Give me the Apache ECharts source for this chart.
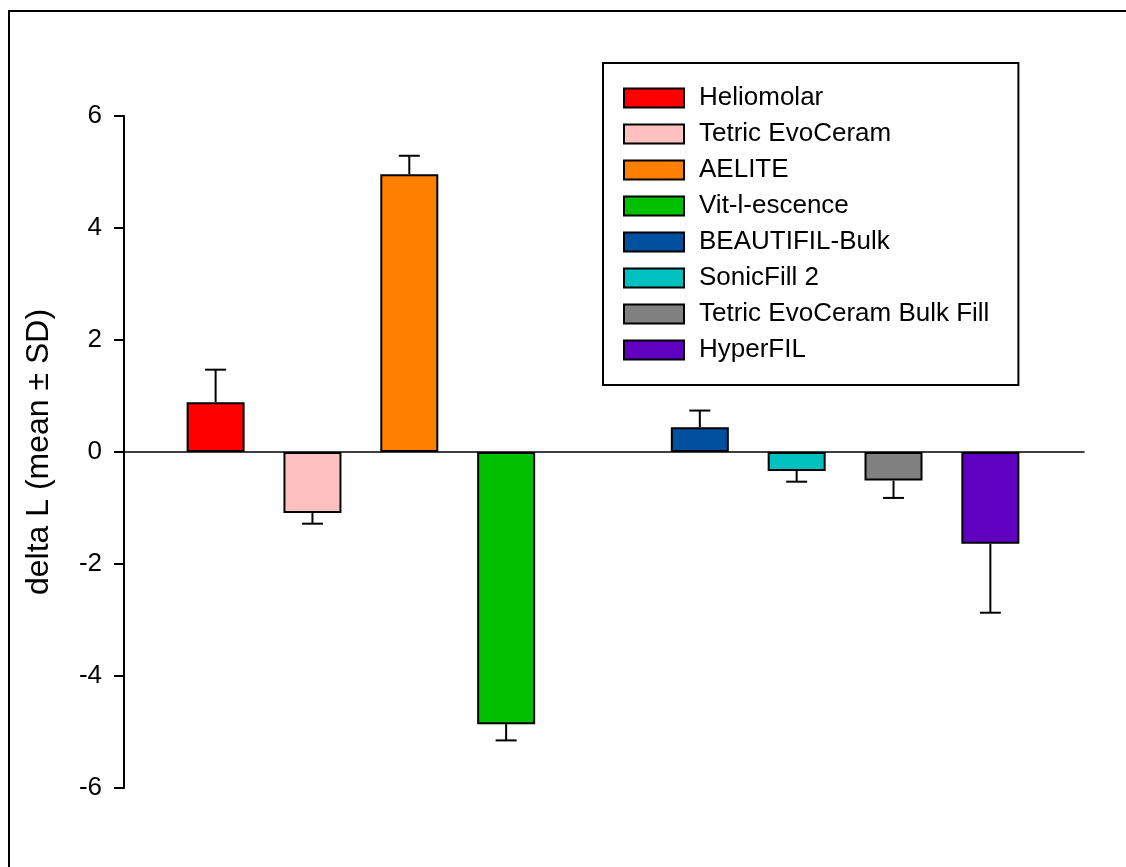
<!DOCTYPE html>
<html>
<head>
<meta charset="utf-8">
<script src="https://cdn.jsdelivr.net/npm/echarts@6/dist/echarts.min.js"></script>
<style>html,body{margin:0;padding:0;background:#fff}#c{width:1126px;height:867px}</style>
</head>
<body>
<div id="c"></div>
<script>
var categories = ['Heliomolar', 'Tetric EvoCeram', 'AELITE', 'Vit-l-escence', 'BEAUTIFIL-Bulk', 'SonicFill 2', 'Tetric EvoCeram Bulk Fill', 'HyperFIL'];
var means = [0.89, -1.09, 4.96, -4.86, 0.44, -0.34, -0.51, -1.64];
var sds = [0.58, 0.19, 0.33, 0.29, 0.30, 0.19, 0.31, 1.23];
var groups = ['conventional', 'conventional', 'conventional', 'conventional', 'bulk', 'bulk', 'bulk', 'bulk'];
var colors = ['#FF0000', '#FFC0C0', '#FF8000', '#00C000', '#0050A0', '#00C0C0', '#808080', '#6000C0'];
var yTicks = [-6, -4, -2, 0, 2, 4, 6];

// slot positions: one empty slot between the two groups
var slots = [];
var s = 0;
for (var i = 0; i < categories.length; i++) {
  if (i > 0 && groups[i] !== groups[i - 1]) s++;
  slots.push(s);
  s++;
}

var FONT = '"Liberation Sans", Arial, sans-serif';
var series = categories.map(function (name, i) {
  return {
    name: name,
    type: 'bar',
    barWidth: 58,
    barGap: '-100%',
    data: [[slots[i], means[i]]],
    itemStyle: { color: colors[i], borderColor: '#000', borderWidth: 2 },
    emphasis: { disabled: true },
    z: 3
  };
});

series.push({
  type: 'custom',
  name: 'sd',
  data: categories.map(function (n, i) { return [slots[i], means[i], means[i] + (means[i] >= 0 ? sds[i] : -sds[i])]; }),
  renderItem: function (params, api) {
    var p0 = api.coord([api.value(0), api.value(1)]);
    var p1 = api.coord([api.value(0), api.value(2)]);
    var hw = 10.5;
    return {
      type: 'group',
      children: [
        { type: 'line', shape: { x1: p0[0], y1: p0[1], x2: p1[0], y2: p1[1] }, style: { stroke: '#000', lineWidth: 2 } },
        { type: 'line', shape: { x1: p1[0] - hw, y1: p1[1], x2: p1[0] + hw, y2: p1[1] }, style: { stroke: '#000', lineWidth: 2 } }
      ]
    };
  },
  z: 2,
  silent: true
});

var chart = echarts.init(document.getElementById('c'));
chart.setOption({
  animation: false,
  backgroundColor: '#fff',
  graphic: [{
    type: 'rect',
    shape: { x: 9, y: 11, width: 1300, height: 1000 },
    style: { fill: null, stroke: '#000', lineWidth: 2 },
    silent: true
  }],
  legend: {
    orient: 'vertical',
    left: 603,
    top: 63,
    padding: [22, 29, 22, 20],
    itemWidth: 60,
    itemHeight: 19,
    itemGap: 10,
    borderColor: '#000',
    borderWidth: 2,
    backgroundColor: '#fff',
    selectedMode: false,
    icon: 'rect',
    data: categories,
    textStyle: { fontSize: 26, color: '#000', fontFamily: FONT, padding: [0, 0, 0, 10] }
  },
  grid: { left: 124, right: 42, top: 116, bottom: 79, containLabel: false },
  xAxis: {
    type: 'value',
    min: -0.946,
    max: 8.967,
    axisLine: { show: true, onZero: true, lineStyle: { color: '#000', width: 1.5 } },
    axisTick: { show: false },
    axisLabel: { show: false },
    splitLine: { show: false }
  },
  yAxis: {
    type: 'value',
    min: -6,
    max: 6,
    interval: 2,
    name: 'delta L (mean \u00B1 SD)',
    nameLocation: 'middle',
    nameGap: 69,
    nameTextStyle: { fontSize: 32, color: '#000', fontFamily: FONT },
    axisLine: { show: true, onZero: false, lineStyle: { color: '#000', width: 2 } },
    axisTick: { show: true, length: 10, inside: false, lineStyle: { color: '#000', width: 2 } },
    axisLabel: {
      fontSize: 26, color: '#000', fontFamily: FONT, margin: 22,
      formatter: function (v) { return yTicks.indexOf(v) >= 0 ? String(v) : ''; }
    },
    splitLine: { show: false }
  },
  series: series
});
</script>
</body>
</html>
